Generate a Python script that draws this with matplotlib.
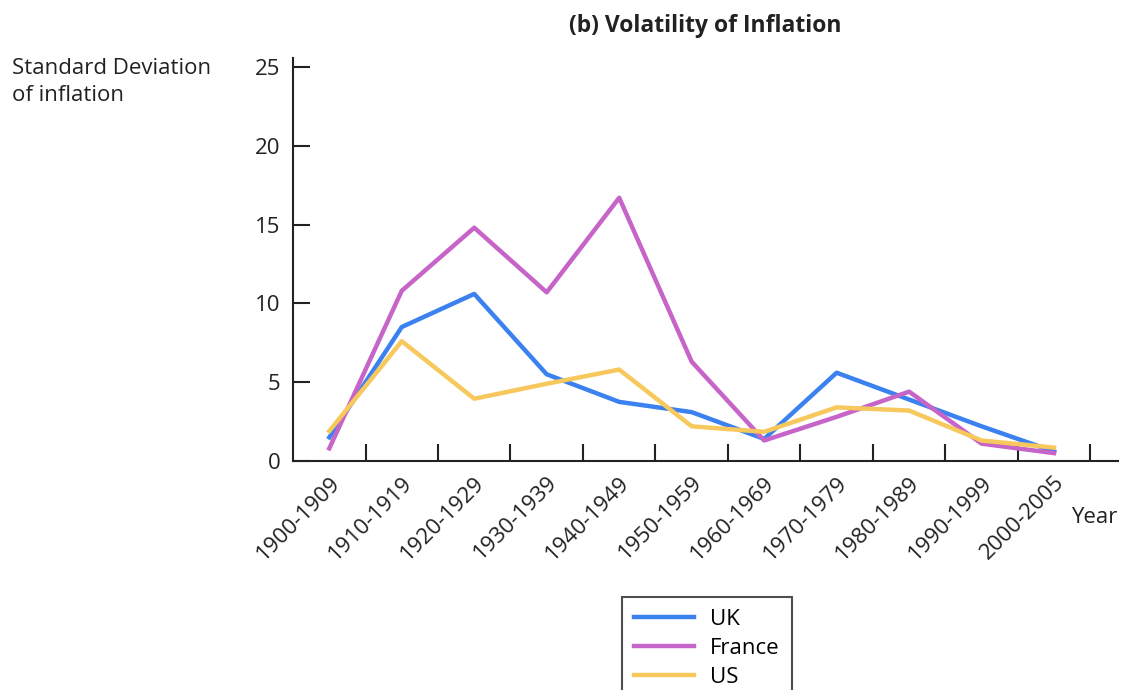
import matplotlib
matplotlib.use("Agg")
import matplotlib.pyplot as plt
import numpy as np

categories = ["1900-1909", "1910-1919", "1920-1929", "1930-1939", "1940-1949",
              "1950-1959", "1960-1969", "1970-1979", "1980-1989", "1990-1999", "2000-2005"]
uk = [1.5, 8.5, 10.6, 5.5, 3.75, 3.1, 1.4, 5.6, 3.9, 2.2, 0.6]
france = [0.8, 10.8, 14.8, 10.7, 16.7, 6.3, 1.3, 2.8, 4.4, 1.1, 0.5]
us = [1.9, 7.6, 3.95, 4.9, 5.8, 2.2, 1.85, 3.4, 3.2, 1.3, 0.85]
yticks = [0, 5, 10, 15, 20, 25]

plt.rcParams['font.family'] = ['Open Sans', 'DejaVu Sans']

fig = plt.figure(figsize=(11.28, 6.9), dpi=100)
ax = fig.add_axes([0.2598, 0.3319, 0.991 - 0.2598, 0.916 - 0.3319])

x = np.arange(len(categories))
ax.plot(x, uk, color="#3b82f0", lw=3.2, label="UK")
ax.plot(x, france, color="#c664c8", lw=3.2, label="France")
ax.plot(x, us, color="#f7c85c", lw=3.2, label="US")

ax.set_xlim(-0.5, 10.88)
ax.set_ylim(0, 25.57)
ax.spines['top'].set_visible(False)
ax.spines['right'].set_visible(False)
for s in ['left', 'bottom']:
    ax.spines[s].set_color('#222222')
    ax.spines[s].set_linewidth(1.5)

ax.set_yticks(yticks)
ax.set_yticklabels([str(v) for v in yticks], fontsize=16, color='#222222')
ax.tick_params(axis='y', direction='in', length=12, width=1.5, color='#222222', pad=9)

ax.set_xticks(np.arange(len(categories)) + 0.5)
ax.set_xticklabels([])
ax.tick_params(axis='x', direction='in', length=12, width=1.5, color='#222222')
ax.set_xticks(x, minor=True)
ax.set_xticklabels(categories, minor=True, rotation=45, ha='right', va='top',
                   rotation_mode='anchor', fontsize=16, color='#222222')
ax.tick_params(axis='x', which='minor', length=0, pad=8)

fig.text(0.625, 0.963, "(b) Volatility of Inflation", ha='center', va='center',
         fontsize=16.5, fontweight='bold', color='#222222')
fig.text(0.011, 0.916, "Standard Deviation\nof inflation", ha='left', va='top',
         fontsize=16, color='#222222', linespacing=1.35)
fig.text(0.991, 0.25, "Year", ha='right', va='center', fontsize=16, color='#222222')

leg = ax.legend(loc='upper left', bbox_to_anchor=(0.5514, 0.135),
                bbox_transform=fig.transFigure, borderaxespad=0, fontsize=16,
                fancybox=False, frameon=True, handlelength=2.7, labelspacing=0.35,
                borderpad=0.55, handletextpad=0.7)
leg.get_frame().set_edgecolor('#222222')
leg.get_frame().set_linewidth(1.5)

fig.savefig("out.png", dpi=100)
